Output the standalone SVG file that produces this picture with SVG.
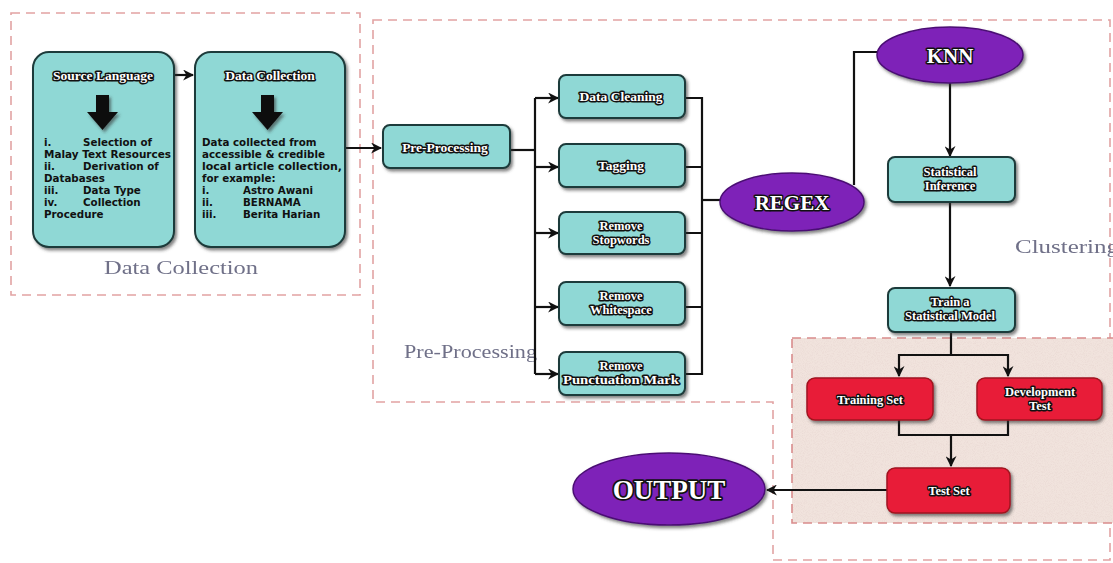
<svg xmlns="http://www.w3.org/2000/svg" width="1113" height="563" viewBox="0 0 1113 563">
<defs>
<style>
.dash{fill:none;stroke:#e2a3a3;stroke-width:1.6;stroke-dasharray:9,6}
.cyan{fill:#8fd8d5;stroke:#1e3b3a;stroke-width:2;filter:url(#sh)}
.red{fill:#e81c38;stroke:#a0121f;stroke-width:1.5;filter:url(#sh)}
.purp{fill:#7e24b8;stroke:#4b0f74;stroke-width:1.5;filter:url(#sh)}
.t{font-family:"Liberation Serif","DejaVu Serif",serif;font-weight:bold;fill:#fff;stroke:#111;stroke-width:3;paint-order:stroke;stroke-linejoin:round;text-anchor:middle;font-size:12.5px}
.b{font-family:"DejaVu Sans",Verdana,sans-serif;font-weight:bold;font-size:10.3px;fill:#111}
.lab{font-family:"Liberation Serif","DejaVu Serif",serif;font-size:18px;fill:#6f7088;filter:url(#blur)}
.c{fill:none;stroke:#111;stroke-width:2.2}
</style>
<filter id="sh" x="-20%" y="-20%" width="140%" height="150%">
<feDropShadow dx="2" dy="2.5" stdDeviation="1.5" flood-color="#333" flood-opacity="0.6"/>
</filter>
<filter id="blur"><feGaussianBlur stdDeviation="0.5"/></filter>
<filter id="tex" x="0" y="0" width="100%" height="100%">
<feTurbulence type="fractalNoise" baseFrequency="1.1" numOctaves="2" seed="3" result="n"/>
<feColorMatrix in="n" type="matrix" values="0 0 0 0 0.82  0 0 0 0 0.70  0 0 0 0 0.66  0 0 0 -2.2 1.25" result="s"/>
<feComposite in="s" in2="SourceGraphic" operator="in" result="s2"/>
<feMerge><feMergeNode in="SourceGraphic"/><feMergeNode in="s2"/></feMerge>
</filter>
<marker id="ah" viewBox="0 0 10 10" refX="9" refY="5" markerWidth="5" markerHeight="5" orient="auto" markerUnits="strokeWidth">
<path d="M0,0 L10,5 L0,10 L3,5 Z" fill="#111"/>
</marker>
</defs>
<rect width="1113" height="563" fill="#fff"/>

<!-- regions -->
<g id="regions">
<rect class="dash" x="11" y="13" width="349" height="282"/>
<path class="dash" d="M373,20 H1110 V560 H773 V402 H373 Z"/>
<rect x="792" y="338" width="321" height="185" fill="#f1e3dd" filter="url(#tex)"/>
<rect class="dash" x="792" y="338" width="330" height="185" style="stroke:#d98c8c"/>
<text class="lab" x="104" y="274" textLength="154" lengthAdjust="spacingAndGlyphs">Data Collection</text>
<text class="lab" x="404" y="358" textLength="133" lengthAdjust="spacingAndGlyphs">Pre-Processing</text>
<text class="lab" x="1015" y="253" textLength="104" lengthAdjust="spacingAndGlyphs">Clustering</text>
</g>

<!-- connectors -->
<g id="connectors">
<path class="c" d="M175,75 H193" marker-end="url(#ah)"/>
<path class="c" d="M345,148 H381" marker-end="url(#ah)"/>
<path class="c" d="M510,150 H535"/>
<path class="c" d="M535,98 V374"/>
<path class="c" d="M535,98 H558" marker-end="url(#ah)"/>
<path class="c" d="M535,167 H558" marker-end="url(#ah)"/>
<path class="c" d="M535,233 H558" marker-end="url(#ah)"/>
<path class="c" d="M535,307 H558" marker-end="url(#ah)"/>
<path class="c" d="M535,374 H558" marker-end="url(#ah)"/>
<path class="c" d="M685,98 H702 V374 H685 M685,167 H702 M685,233 H702 M685,307 H702"/>
<path class="c" d="M702,200 H722"/>
<path class="c" d="M854,185 V52 H878"/>
<path class="c" d="M950,83 V156" marker-end="url(#ah)"/>
<path class="c" d="M950,203 V286" marker-end="url(#ah)"/>
<path class="c" d="M951,333 V355 M899,355 H1008"/>
<path class="c" d="M899,354 V376" marker-end="url(#ah)"/>
<path class="c" d="M1008,354 V376" marker-end="url(#ah)"/>
<path class="c" d="M899,420 V435 H1008 V420"/>
<path class="c" d="M951,435 V466" marker-end="url(#ah)"/>
<path class="c" d="M887,490 H767" marker-end="url(#ah)"/>
</g>

<!-- nodes -->
<g id="source-language">
<rect class="cyan" x="33" y="52" width="141" height="195" rx="16"/>
<text class="t" x="103" y="80" style="font-size:13.5px">Source Language</text>
<path d="M96,95 H109 V112 H118 L102.5,130 L87,112 H96 Z" fill="#111" filter="url(#sh)"/>
<text class="b" x="44" y="146">i.</text><text class="b" x="83" y="146">Selection of</text>
<text class="b" x="44" y="158" textLength="127" lengthAdjust="spacingAndGlyphs">Malay Text Resources</text>
<text class="b" x="44" y="170">ii.</text><text class="b" x="83" y="170">Derivation of</text>
<text class="b" x="44" y="182">Databases</text>
<text class="b" x="44" y="194">iii.</text><text class="b" x="83" y="194">Data Type</text>
<text class="b" x="44" y="206">iv.</text><text class="b" x="83" y="206">Collection</text>
<text class="b" x="44" y="218">Procedure</text>
</g>

<g id="data-collection">
<rect class="cyan" x="195" y="52" width="150" height="195" rx="16"/>
<text class="t" x="270" y="80" style="font-size:13.5px">Data Collection</text>
<path d="M261,95 H274 V112 H283 L267.5,130 L252,112 H261 Z" fill="#111" filter="url(#sh)"/>
<text class="b" x="202" y="146">Data collected from</text>
<text class="b" x="202" y="158">accessible &amp; credible</text>
<text class="b" x="202" y="170" textLength="140" lengthAdjust="spacingAndGlyphs">local article collection,</text>
<text class="b" x="202" y="182">for example:</text>
<text class="b" x="202" y="194">i.</text><text class="b" x="243" y="194">Astro Awani</text>
<text class="b" x="202" y="206">ii.</text><text class="b" x="243" y="206">BERNAMA</text>
<text class="b" x="202" y="218">iii.</text><text class="b" x="243" y="218">Berita Harian</text>
</g>

<g id="pre-processing">
<rect class="cyan" x="383" y="125" width="127" height="43" rx="7"/>
<text class="t" x="445" y="152" style="font-size:13.5px">Pre-Processing</text>
</g>

<g id="data-cleaning">
<rect class="cyan" x="559" y="75" width="126" height="43" rx="7"/>
<text class="t" x="621" y="101" style="font-size:13.5px">Data Cleaning</text>
</g>
<g id="tagging">
<rect class="cyan" x="559" y="144" width="126" height="43" rx="7"/>
<text class="t" x="621" y="170" style="font-size:13.5px">Tagging</text>
</g>
<g id="remove-stopwords">
<rect class="cyan" x="559" y="212" width="126" height="42" rx="7"/>
<text class="t" x="621" y="230">Remove</text>
<text class="t" x="621" y="244">Stopwords</text>
</g>
<g id="remove-whitespace">
<rect class="cyan" x="559" y="282" width="126" height="43" rx="7"/>
<text class="t" x="621" y="300">Remove</text>
<text class="t" x="621" y="314">Whitespace</text>
</g>
<g id="remove-punctuation">
<rect class="cyan" x="559" y="352" width="126" height="43" rx="7"/>
<text class="t" x="621" y="370">Remove</text>
<text class="t" x="621" y="384" textLength="116" lengthAdjust="spacingAndGlyphs">Punctuation Mark</text>
</g>

<g id="regex">
<ellipse class="purp" cx="792" cy="202" rx="72" ry="29"/>
<text class="t" x="792" y="210" style="font-size:21px">REGEX</text>
</g>
<g id="knn">
<ellipse class="purp" cx="950" cy="55" rx="73" ry="28"/>
<text class="t" x="950" y="63" style="font-size:21px">KNN</text>
</g>
<g id="statistical-inference">
<rect class="cyan" x="888" y="157" width="127" height="45" rx="7"/>
<text class="t" x="950" y="176">Statistical</text>
<text class="t" x="950" y="190">Inference</text>
</g>
<g id="train-model">
<rect class="cyan" x="888" y="288" width="127" height="44" rx="7"/>
<text class="t" x="950" y="306">Train a</text>
<text class="t" x="950" y="320">Statistical Model</text>
</g>
<g id="training-set">
<rect class="red" x="807" y="378" width="126" height="42" rx="8"/>
<text class="t" x="870" y="404">Training Set</text>
</g>
<g id="development-test">
<rect class="red" x="977" y="378" width="125" height="42" rx="8"/>
<text class="t" x="1040" y="396">Development</text>
<text class="t" x="1040" y="410">Test</text>
</g>
<g id="test-set">
<rect class="red" x="887" y="468" width="123" height="45" rx="8"/>
<text class="t" x="949" y="495">Test Set</text>
</g>
<g id="output">
<ellipse class="purp" cx="669" cy="489" rx="96" ry="36"/>
<text class="t" x="669" y="499" style="font-size:27px;stroke-width:3.5">OUTPUT</text>
</g>
</svg>
